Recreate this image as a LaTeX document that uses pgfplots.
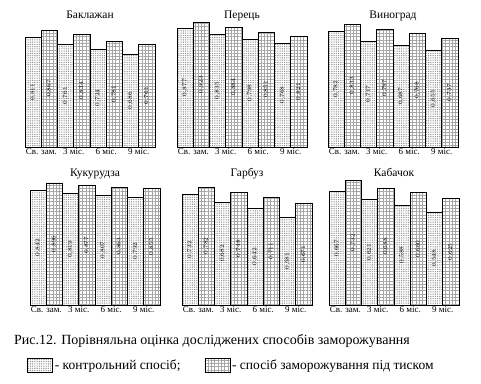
\documentclass[border=0pt]{standalone}
\usepackage{fontspec}
\setmainfont{Liberation Serif}
\setsansfont{Liberation Sans}
\usepackage{pgfplots}
\usepackage{pgfplotstable}
\pgfplotsset{compat=1.18}
\usetikzlibrary{patterns.meta}

\pgfplotstableread{
g c p
1 0.811 0.867
2 0.761 0.834
3 0.724 0.781
4 0.686 0.761
}\tA
\pgfplotstableread{
g c p
1 0.877 0.923
2 0.835 0.884
3 0.798 0.851
4 0.768 0.821
}\tB
\pgfplotstableread{
g c p
1 0.782 0.833
2 0.717 0.797
3 0.687 0.768
4 0.655 0.737
}\tC
\pgfplotstableread{
g c p
1 0.842 0.896
2 0.819 0.877
3 0.807 0.863
4 0.792 0.855
}\tD
\pgfplotstableread{
g c p
1 0.732 0.782
2 0.682 0.748
3 0.642 0.711
4 0.581 0.671
}\tE
\pgfplotstableread{
g c p
1 0.667 0.732
2 0.621 0.688
3 0.588 0.660
4 0.548 0.625
}\tF

\tikzset{
  ctrl/.style={draw=black, line width=0.6pt, fill=white,
    postaction={pattern={Dots[distance=1.8pt,radius=0.45pt]}, pattern color=black!60}},
  pres/.style={draw=black, line width=0.6pt, fill=white,
    postaction={pattern={Hatch[angle=0,distance=3.3pt,line width=0.3pt]}, pattern color=black!35}},
}

\pgfplotsset{
  panel/.style={
    scale only axis, width=130pt, height=125pt,
    xmin=0.5, xmax=8.5, ymin=0,
    axis x line*=bottom, axis y line=none,
    x axis line style={-, draw=none},
    xtick={1.5,3.5,5.5,7.5},
    xticklabels={Св. зам., 3 міс., 6 міс., 9 міс.},
    xtick style={draw=none},
    ytick=\empty,
    tick label style={font=\fontsize{9}{10}\selectfont},
    xticklabel style={yshift=2pt},
    title style={font=\fontsize{11.5}{13}\selectfont, anchor=south,
      text height=8pt, text depth=2.5pt, yshift=-9pt},
    clip=false,
  },
  vlab/.style={draw=none, mark=none, forget plot,
    nodes near coords={\sffamily\fontsize{6.5}{7}\selectfont\pgfmathprintnumber[fixed,fixed zerofill,precision=3,use comma]{\pgfplotspointmeta}},
    every node near coord/.append style={rotate=90, anchor=center, inner sep=0.3pt,
      text=black},
    point meta=explicit},
}

\newcommand{\panel}[1]{%
  \addplot[ybar, bar width=1, bar shift=0pt, ctrl, forget plot] table[x expr=2*\thisrow{g}-1, y=c] {#1};
  \addplot[ybar, bar width=1, bar shift=0pt, pres, forget plot] table[x expr=2*\thisrow{g}, y=p] {#1};
  \addplot[vlab] table[x expr=2*\thisrow{g}-1, y expr=\thisrow{c}/2, meta=c] {#1};
  \addplot[vlab] table[x expr=2*\thisrow{g}, y expr=\thisrow{p}/2, meta=p] {#1};
}

\begin{document}
\begin{tikzpicture}
\path[use as bounding box] (0,0) rectangle (481pt,-383pt);

\begin{axis}[panel, at={(25pt,-147pt)}, anchor=south west, ymax=0.926, title={Баклажан}]
\panel{\tA}
\end{axis}
\begin{axis}[panel, at={(177pt,-147pt)}, anchor=south west, ymax=0.925, title={Перець}]
\panel{\tB}
\end{axis}
\begin{axis}[panel, at={(328pt,-147pt)}, anchor=south west, ymax=0.847, title={Виноград}]
\panel{\tC}
\end{axis}

\begin{axis}[panel, at={(30pt,-305pt)}, anchor=south west, ymax=0.918, title={Кукурудза},
  x axis line style={-, draw=black, line width=0.5pt},
  legend columns=2,
  legend style={at={(rel axis cs:-0.023,-0.48)}, anchor=west, draw=none, fill=none,
    font=\fontsize{13.5}{15}\selectfont, inner sep=0pt,
    /tikz/every even column/.append style={column sep=22pt}},
  legend cell align=left,
  legend image code/.code={\draw[#1] (0pt,-7pt) rectangle (25pt,7pt);},
  ]
\panel{\tD}
\addlegendimage{ctrl}
\addlegendentry{- контрольний спосіб;}
\addlegendimage{pres}
\addlegendentry{- спосіб заморожування під тиском}
\end{axis}
\begin{axis}[panel, at={(182pt,-305pt)}, anchor=south west, ymax=0.828, title={Гарбуз},
  x axis line style={-, draw=black, line width=0.5pt}]
\panel{\tE}
\end{axis}
\begin{axis}[panel, at={(329pt,-305pt)}, anchor=south west, ymax=0.735, title={Кабачок},
  x axis line style={-, draw=black, line width=0.5pt}]
\panel{\tF}
\end{axis}

\node[anchor=west, font=\fontsize{14}{16}\selectfont, inner sep=0pt] at (14pt,-341pt)
  {Рис.12. Порівняльна оцінка досліджених способів заморожування};
\end{tikzpicture}
\end{document}
